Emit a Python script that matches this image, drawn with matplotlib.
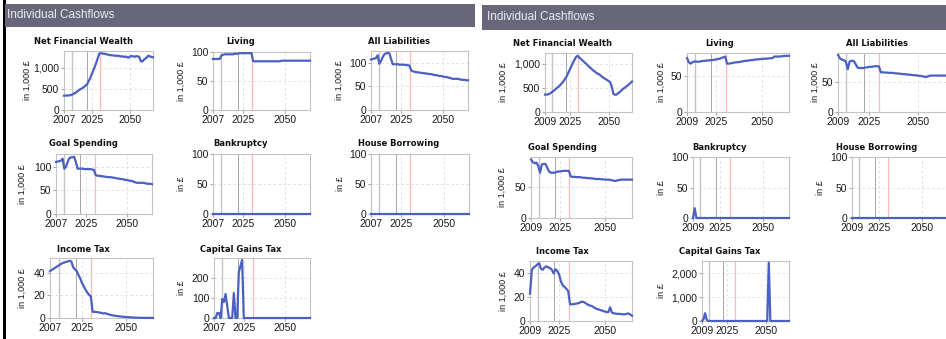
import numpy as np
import matplotlib
matplotlib.use("Agg")
import matplotlib.pyplot as plt
from matplotlib.patches import Rectangle
from matplotlib.ticker import FuncFormatter

plt.rcParams['font.family'] = ['Liberation Sans', 'DejaVu Sans']

W, H = 946, 339

# --- data: left run (2007-2065) ---
years_a = np.arange(2007, 2066)

nfw_a = [340, 340, 345, 345, 350, 360, 380, 400, 420, 450,
         480, 500, 520, 545, 575, 610, 680, 750, 840, 930,
         1020, 1120, 1230, 1340,
         1350, 1340, 1335, 1330, 1320, 1310, 1300, 1300, 1295, 1290,
         1285, 1290, 1280, 1270, 1275, 1260, 1270, 1255, 1240, 1270,
         1280, 1275, 1260, 1280, 1270, 1265, 1160, 1150, 1190, 1220,
         1250, 1290, 1270, 1260, 1250]
living_a = [88, 88, 88, 88, 88, 94, 95, 96, 96, 96,
            96, 96, 96, 97, 97, 97, 98, 98, 98, 98,
            98, 98, 98, 98,
            84, 84, 84, 84, 84, 84, 84, 84, 84, 84,
            84, 84, 84, 84, 84, 84, 84, 85, 85, 85,
            85, 85, 85, 85, 85, 85, 85, 85, 85, 85,
            85, 85, 85, 85, 85]
liab_a = [107, 108, 109, 110, 116, 98, 104, 112, 118, 120,
          121, 120, 108, 97, 97, 97, 97, 96, 96, 96,
          96, 95, 95, 94,
          84, 82, 81, 80, 80, 79, 79, 78, 78, 77,
          77, 76, 76, 75, 74, 74, 73, 72, 72, 71,
          70, 70, 69, 68, 67, 66, 66, 66, 66, 65,
          64, 64, 64, 63, 63]
goal_a = [110, 111, 112, 113, 117, 96, 100, 110, 118, 120,
          120, 121, 110, 96, 96, 96, 96, 95, 95, 95,
          95, 95, 94, 93,
          82, 81, 81, 80, 80, 79, 79, 78, 78, 78,
          77, 77, 76, 75, 75, 74, 74, 73, 72, 72,
          71, 70, 70, 68, 67, 66, 66, 66, 66, 66,
          65, 64, 64, 64, 63]
bank_a = [0, 0, 0, 0, 0, 0, 0, 0, 0, 0,
          0, 0, 0, 0, 0, 0, 0, 0, 0, 0,
          0, 0, 0, 0, 0, 0, 0, 0, 0, 0,
          0, 0, 0, 0, 0, 0, 0, 0, 0, 0,
          0, 0, 0, 0, 0, 0, 0, 0, 0, 0,
          0, 0, 0, 0, 0, 0, 0, 0, 0]
house_a = [0, 0, 0, 0, 0, 0, 0, 0, 0, 0,
           0, 0, 0, 0, 0, 0, 0, 0, 0, 0,
           0, 0, 0, 0, 0, 0, 0, 0, 0, 0,
           0, 0, 0, 0, 0, 0, 0, 0, 0, 0,
           0, 0, 0, 0, 0, 0, 0, 0, 0, 0,
           0, 0, 0, 0, 0, 0, 0, 0, 0]
itax_a = [41.5, 42.5, 43.5, 44.5, 45.5, 46.5, 47.5, 48.5, 49, 49.5,
          50, 50.5, 50, 45, 43, 41.5, 38, 35, 31, 28,
          25, 22.5, 20.5, 19,
          5.5, 5.4, 5.3, 5.1, 4.8, 4.4, 4.0, 4.3, 3.7, 3.2,
          2.8, 2.4, 2.1, 1.9, 1.7, 1.5, 1.3, 1.1, 1.0, 0.9,
          0.8, 0.6, 0.5, 0.4, 0.3, 0.2, 0.2, 0.1, 0.1, 0.1,
          0.1, 0.1, 0.1, 0.1, 0.1]
cgt_a = [0, 0, 25, 25, 0, 95, 80, 120, 60, 0,
         0, 0, 125, 0, 0, 230, 260, 290, 0, 0,
         0, 0, 0, 0, 0, 0, 0, 0, 0, 0,
         0, 0, 0, 0, 0, 0, 0, 0, 0, 0,
         0, 0, 0, 0, 0, 0, 0, 0, 0, 0,
         0, 0, 0, 0, 0, 0, 0, 0, 0]

# --- data: right run (2009-2065) ---
years_b = np.arange(2009, 2066)

nfw_b = [360, 360, 365, 380, 400, 425, 450, 480, 505, 530,
         565, 600, 640, 690, 740, 810, 880, 950, 1020, 1080,
         1140, 1160, 1130, 1100, 1070, 1040, 1010, 980, 950, 920,
         890, 860, 840, 810, 790, 775, 750, 720, 700, 680,
         660, 640, 610, 520, 380, 355, 360, 385, 410, 440,
         470, 495, 520, 545, 570, 600, 630]
living_b = [76, 70, 68, 70, 71, 71, 70.5, 71, 71.5, 72,
            72, 72.5, 72.5, 73, 73, 73.5, 74, 74.5, 75, 76,
            77, 78,
            68, 68, 68.5, 69, 69.5, 70, 70, 70.5, 71, 71.5,
            72, 72, 72.5, 73, 73, 73.5, 74, 74, 74.5, 74.5,
            75, 75, 75, 75.5, 75.5, 76, 78, 78, 78, 78,
            78.5, 78.5, 79, 79, 79]
liab_b = [95, 89, 87, 86, 84, 71, 84, 85, 85, 80,
          74, 73, 73, 73, 74, 74, 75, 75, 75.5, 76,
          76, 76,
          66, 66, 65.5, 65.5, 65, 65, 65, 64.5, 64, 64,
          63.5, 63, 63, 62.5, 62, 62, 61.5, 61, 61, 60.5,
          60, 59.5, 59, 58, 59, 60, 60.5, 60.5, 60.5, 60.5,
          60.5, 60.5, 60.5, 60.5, 60.5]
goal_b = [93, 89, 87, 88, 83, 72, 85, 86, 86, 80,
          74, 72, 72, 72, 73, 74, 74, 74.5, 75, 75,
          75, 75,
          66, 65.5, 65.5, 65, 65, 65, 64.5, 64, 64, 63.5,
          63.5, 63, 63, 62.5, 62, 62, 62, 61.5, 61.5, 61,
          61, 61, 60.5, 60, 59, 59, 60, 60.5, 61, 61,
          61, 61, 61, 61, 61]
bank_b = [0, 16, 0, 0, 0, 0, 0, 0, 0, 0,
          0, 0, 0, 0, 0, 0, 0, 0, 0, 0,
          0, 0, 0, 0, 0, 0, 0, 0, 0, 0,
          0, 0, 0, 0, 0, 0, 0, 0, 0, 0,
          0, 0, 0, 0, 0, 0, 0, 0, 0, 0,
          0, 0, 0, 0, 0, 0, 0]
house_b = [0, 0, 0, 0, 0, 0, 0, 0, 0, 0,
           0, 0, 0, 0, 0, 0, 0, 0, 0, 0,
           0, 0, 0, 0, 0, 0, 0, 0, 0, 0,
           0, 0, 0, 0, 0, 0, 0, 0, 0, 0,
           0, 0, 0, 0, 0, 0, 0, 0, 0, 0,
           0, 0, 0, 0, 0, 0, 0]
itax_b = [23, 43, 45, 46, 47.5, 48.5, 44, 43, 45, 46,
          45, 44.5, 43, 40, 43.5, 42, 39, 33, 30, 28.5,
          27, 25,
          14, 14, 14.2, 14.5, 14.8, 15.2, 16, 16.2, 15.5, 14.5,
          13.5, 13, 12.5, 11.5, 10.5, 10, 9.5, 9, 8.5, 8,
          7.5, 7.5, 11.5, 7, 6.5, 6.2, 6, 6, 5.8, 5.6,
          5.6, 6, 6.4, 5.5, 4.5]
cgt_b = [0, 80, 330, 60, 0, 0, 0, 0, 0, 0,
         0, 0, 0, 0, 0, 0, 0, 0, 0, 0,
         0, 0, 0, 0, 0, 0, 0, 0, 0, 0,
         0, 0, 0, 0, 0, 0, 0, 0, 0, 0,
         0, 0, 0, 2450, 0, 0, 0, 0, 0, 0,
         0, 0, 0, 0, 0, 0, 0]

titles = ["Net Financial Wealth", "Living", "All Liabilities",
          "Goal Spending", "Bankruptcy", "House Borrowing",
          "Income Tax", "Capital Gains Tax"]
units = ["in 1,000 £", "in 1,000 £", "in 1,000 £",
         "in 1,000 £", "in £", "in £",
         "in 1,000 £", "in £"]
xticks_a = [2007, 2025, 2050]
xticks_b = [2009, 2025, 2050]
# event years marked by vertical lines (gray, gray, pink)
events_a = [2011.9, 2021.8, 2030.3]
events_b = [2013.2, 2022.3, 2030.3]

# --- layout (pixels): axes box, title centre, ylabel x, ylim, yticks ---
cells_a = [
    ((64, 51, 153, 110), (83, 41), 27, 1400, [0, 500, 1000]),
    ((213, 52, 310, 110), (240.5, 41), 181.7, 100, [0, 50, 100]),
    ((371, 51, 468, 110), (398.5, 41), 339.5, 125, [0, 50, 100]),
    ((56, 154, 152, 214), (83, 144), 22.7, 127, [0, 50, 100]),
    ((213, 154, 310, 214), (240.5, 144), 181.7, 100, [0, 50, 100]),
    ((371, 154, 469, 214), (398.5, 144), 340, 100, [0, 50, 100]),
    ((50, 258, 153, 318), (83, 249), 22.7, 53, [0, 20, 40]),
    ((214, 258, 310, 318), (241, 249), 181.7, 300, [0, 100, 200]),
]
cells_b = [
    ((545, 53, 632, 112), (562.5, 43.3), 503.3, 1220, [0, 500, 1000]),
    ((687, 53, 789, 112), (719.5, 43.3), 661, 83, [0, 50]),
    ((838, 53, 947, 112), (877, 43.3), 815, 98, [0, 50]),
    ((531, 157, 632, 218), (562, 147.3), 502.3, 97, [0, 50]),
    ((693, 157, 789, 218), (719.7, 147.3), 661, 100, [0, 50, 100]),
    ((852, 157, 947, 218), (877, 147.3), 820, 100, [0, 50, 100]),
    ((530, 261, 632, 321), (562.7, 251.7), 503.3, 50.4, [0, 20, 40]),
    ((702, 261, 789, 321), (720, 251.7), 661, 2520, [0, 1000, 2000]),
]

LINE = '#4a60c2'
thousands = FuncFormatter(lambda v, _: f"{v:,.0f}")


def px_box(x0, y0, x1, y1):
    return [x0 / W, 1 - y1 / H, (x1 - x0) / W, (y1 - y0) / H]


def draw_panel(fig, years, series, cells, xticks, events):
    for vals, title, unit, cell in zip(series, titles, units, cells):
        box, (tx, ty), lab_x, ytop, yticks = cell
        ax = fig.add_axes(px_box(*box))
        ax.set_xlim(years[0], 2065)
        ax.set_ylim(0, ytop)
        ax.set_xticks(xticks)
        ax.set_yticks(yticks)
        ax.yaxis.set_major_formatter(thousands)
        ax.grid(True, color='#dcdcdc', lw=0.6, ls=(0, (3, 3)))
        ax.set_axisbelow(True)
        for ev, col, lw in zip(events, ['#c4c4c4', '#a6a6a6', '#ffb8b8'], [1.0, 0.7, 0.9]):
            ax.axvline(ev, color=col, lw=lw, zorder=1.5)
        ax.plot(years, vals, color=LINE, lw=1.6, zorder=3, clip_on=False)
        for sp in ax.spines.values():
            sp.set_color('#c4c4c4')
            sp.set_linewidth(0.8)
        ax.tick_params(labelsize=7.5, length=2, pad=1.5, color='#aaaaaa',
                       labelcolor='#1a1a1a')
        ax.set_ylabel(unit, fontsize=6.5, color='#1a1a1a', va='center')
        x0, _, x1, _ = box
        ax.yaxis.set_label_coords((lab_x - x0) / (x1 - x0), 0.5)
        fig.text(tx / W, 1 - ty / H, title, ha='center', va='center',
                 fontsize=6, fontweight='bold', family='DejaVu Sans', color='#111111')


fig = plt.figure(figsize=(W / 100, H / 100), dpi=100)
fig.patch.set_facecolor('white')

# header bars and left border
fig.add_artist(Rectangle((3 / W, 0), 2.5 / W, 1, transform=fig.transFigure,
                         color='black', lw=0))
fig.add_artist(Rectangle(px_box(5, 4, 475, 27)[:2], 470 / W, 23 / H,
                         transform=fig.transFigure, color='#68677a', lw=0))
fig.add_artist(Rectangle(px_box(482, 5, 946, 30)[:2], 464 / W, 25 / H,
                         transform=fig.transFigure, color='#68677a', lw=0))
fig.text(7 / W, 1 - 15.5 / H, "Individual Cashflows", ha='left', va='center',
         fontsize=8.5, color='#ececf4')
fig.text(487 / W, 1 - 17.5 / H, "Individual Cashflows", ha='left', va='center',
         fontsize=8.5, color='#ececf4')

draw_panel(fig, years_a, [nfw_a, living_a, liab_a, goal_a, bank_a, house_a, itax_a, cgt_a],
           cells_a, xticks_a, events_a)
draw_panel(fig, years_b, [nfw_b, living_b, liab_b, goal_b, bank_b, house_b, itax_b, cgt_b],
           cells_b, xticks_b, events_b)

fig.savefig("out.png", dpi=100)
